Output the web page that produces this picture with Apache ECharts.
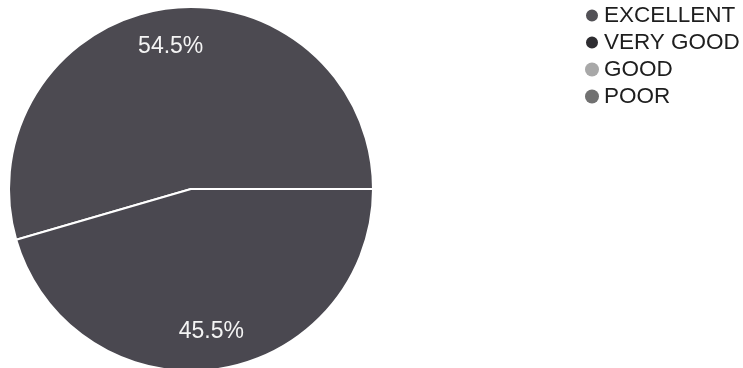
<!DOCTYPE html>
<html>
<head>
<meta charset="utf-8">
<script src="https://cdn.jsdelivr.net/npm/echarts@6/dist/echarts.min.js"></script>
<style>html,body{margin:0;padding:0;background:#fff;}#c{width:743px;height:368px;}</style>
</head>
<body>
<div id="c"></div>
<script>
var categories = ['EXCELLENT', 'VERY GOOD', 'GOOD', 'POOR'];
var values = [54.5, 45.5, 0, 0];
var sliceColors = ['#4c4a51', '#4a4850', '#9c9c9c', '#6c6c6c'];
var legendColors = ['#525156', '#2e2d31', '#a8a8a8', '#717171'];

var chart = echarts.init(document.getElementById('c'));
var data = categories.map(function (n, i) {
  var d = { name: n, value: values[i], itemStyle: { color: sliceColors[i] } };
  if (!values[i]) d.itemStyle.borderWidth = 0;
  return d;
});
var labelData = categories.map(function (n, i) {
  return { name: n, value: values[i] };
});
chart.setOption({
  animation: false,
  legend: {
    orient: 'vertical',
    left: 584,
    top: 4,
    padding: 0,
    icon: 'circle',
    itemWidth: 14,
    itemHeight: 14,
    itemGap: 4,
    selectedMode: false,
    textStyle: { fontFamily: 'Liberation Sans', fontSize: 22.5, lineHeight: 22, color: '#1e1e1e' },
    data: categories.map(function (n, i) {
      return { name: n, itemStyle: { color: legendColors[i] } };
    })
  },
  series: [
    {
      name: 'pie',
      type: 'pie',
      center: [191, 189],
      radius: [0, 182],
      startAngle: 196.2,
      clockwise: true,
      avoidLabelOverlap: false,
      label: { show: false },
      labelLine: { show: false },
      emphasis: { disabled: true },
      itemStyle: { borderColor: '#ffffff', borderWidth: 2 },
      data: data
    },
    {
      name: 'labels',
      type: 'pie',
      center: [191, 189],
      radius: [100, 182],
      startAngle: 196.2,
      clockwise: true,
      silent: true,
      avoidLabelOverlap: false,
      legendHoverLink: false,
      itemStyle: { color: 'rgba(0,0,0,0)', borderWidth: 0 },
      emphasis: { disabled: true },
      labelLine: { show: false },
      label: {
        show: true,
        position: 'inside',
        fontFamily: 'Liberation Sans',
        fontSize: 23,
        color: '#f4f4f4',
        formatter: function (p) { return p.value ? p.value.toFixed(1) + '%' : ''; }
      },
      data: labelData
    }
  ]
});
</script>
</body>
</html>
